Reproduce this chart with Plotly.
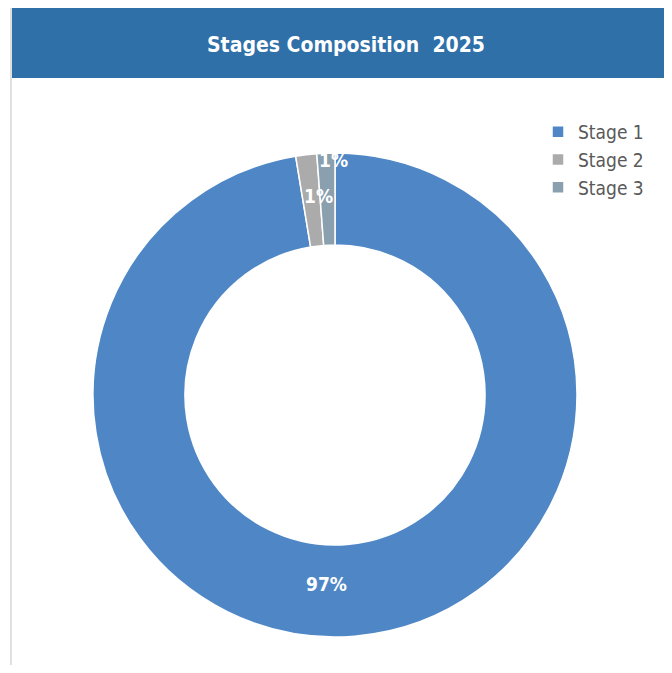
import math
import plotly.graph_objects as go

labels = ["Stage 1", "Stage 2", "Stage 3"]
values = [97.4, 1.4, 1.2]
colors = ["#4F87C6", "#ABABAB", "#8AA0AF"]
title_text = "Stages Composition  2025"

# page has an 8px body margin; the figure sits at (8, 8)
OFF = 8
W, H = 672 - 2 * OFF, 673 - 2 * OFF
FONT = "DejaVu Sans Condensed, Liberation Sans Narrow, DejaVu Sans, sans-serif"

def px(x):
    return (x - OFF) / W

def py(y):
    return 1 - (y - OFF) / H

cx, cy, r = 335, 395, 242
hole = 0.62

total = sum(values)
pct_text = [f"<b>{round(v / total * 100):d}%</b>" for v in values]

fig = go.Figure(go.Pie(
    labels=labels,
    values=values,
    hole=hole,
    sort=False,
    direction="clockwise",
    rotation=0,
    marker=dict(colors=colors, line=dict(color="white", width=1.5)),
    textinfo="none",
    domain=dict(x=[px(cx - r), px(cx + r)], y=[py(cy + r), py(cy - r)]),
    showlegend=True,
))

# percentage labels, placed from each slice's mid angle
annotations = []
cum = 0.0
radii = [0.785, 0.83, 0.97]
shifts = [-24, 7, 7]
for i, v in enumerate(values):
    mid = (cum + v / 2) / total * 2 * math.pi
    cum += v
    rr = radii[i] * r
    x = cx + rr * math.sin(mid)
    y = cy - rr * math.cos(mid)
    annotations.append(dict(
        text=pct_text[i], xref="paper", yref="paper", x=px(x), y=py(y), xshift=shifts[i],
        xanchor="center", yanchor="middle", showarrow=False,
        font=dict(family=FONT, size=19, color="white"),
    ))

annotations.append(dict(
    text="<b>" + title_text + "</b>", xref="paper", yref="paper", x=px(346),
    y=py(45), xanchor="center", yanchor="middle", showarrow=False,
    font=dict(family=FONT, size=21, color="white"),
))

fig.update_layout(
    width=W, height=H,
    margin=dict(l=0, r=0, t=0, b=0),
    paper_bgcolor="white",
    plot_bgcolor="white",
    legend=dict(
        x=px(538), y=py(160), xanchor="left", yanchor="middle",
        font=dict(family=FONT, size=19, color="#595959"),
        itemwidth=30,
    ),
    shapes=[
        dict(type="rect", xref="paper", yref="paper", x0=px(11), x1=1, y0=py(78), y1=1,
             fillcolor="#2F70A8", line=dict(width=0), layer="below"),
        dict(type="line", xref="paper", yref="paper", x0=px(11), x1=px(11), y0=0, y1=1,
             line=dict(color="#E0E0E0", width=2)),
    ],
    annotations=annotations,
)

fig.write_html("out.html")
